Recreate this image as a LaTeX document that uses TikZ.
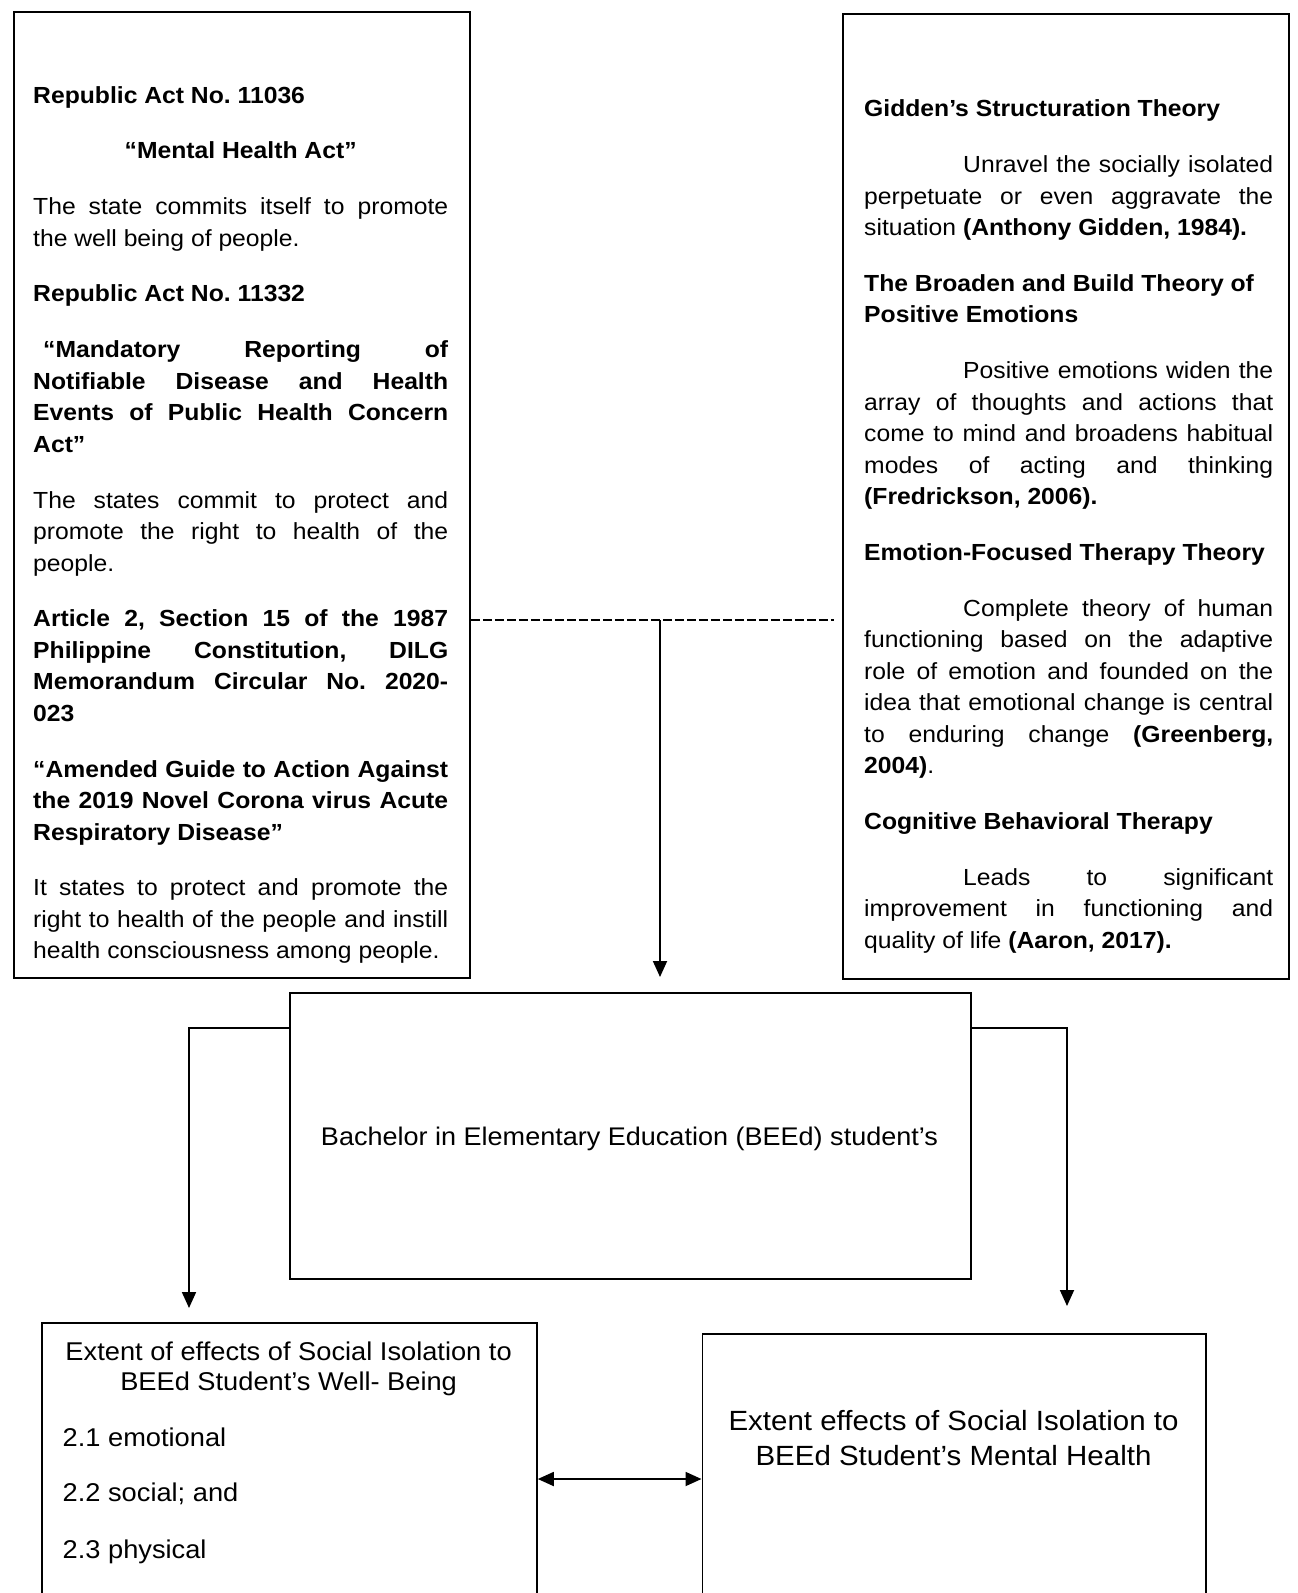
\documentclass[tikz,border=0pt]{standalone}
\usepackage{fontspec}
\setmainfont{Liberation Sans}[FakeStretch=1.06]
\usetikzlibrary{arrows.meta}
\newcommand{\jset}{\frenchspacing\spaceskip=0pt \xspaceskip=0pt \rightskip=0pt \leftskip=0pt \parfillskip=0pt plus 1fil \parindent=0pt \parskip=24.3pt \tolerance=10000 \hbadness=10000 \hfuzz=20pt \hyphenpenalty=10000 \exhyphenpenalty=10000 }
\begin{document}
\begin{tikzpicture}[x=1pt,y=-1pt,
  frame/.style={draw, line width=1.8pt, inner sep=0pt, anchor=north west},
  txt/.style={inner sep=0pt, anchor=north west, font=\fontsize{23.3}{31.5}\selectfont},
  conn/.style={line width=1.8pt},
  tipd/.style={-{Triangle[length=16pt,width=14pt]}},
  tipb/.style={{Triangle[length=16pt,width=14pt]}-{Triangle[length=16pt,width=14pt]}},
  dashln/.style={line width=2.8pt, dash pattern=on 9pt off 3pt}]
\useasboundingbox (0,0) rectangle (1298,1593);
\clip (0,0) rectangle (1298,1593);

% boxes
\node[frame, minimum width=456pt, minimum height=966pt] (law) at (13,11) {};
\node[frame, minimum width=446pt, minimum height=965pt] (theory) at (842,13) {};
\node[frame, minimum width=681pt, minimum height=286pt] (mid) at (289,992) {};
\node[frame, minimum width=495pt, minimum height=330pt] (wb) at (41,1321.7) {};
\node[frame, minimum width=503.5pt, minimum height=320pt] (mb) at (701.5,1332.7) {};

% left text
\node[txt] (lawtext) at (33,86) {\begin{minipage}[t]{415pt}\jset
\textbf{Republic Act No. 11036}\par
{\centering\textbf{“Mental Health Act”}\par}
The state commits itself to promote\linebreak the well being of people.\par
\textbf{Republic Act No. 11332}\par
\textbf{\hspace*{10pt}“Mandatory Reporting of\linebreak Notifiable Disease and Health\linebreak Events of Public Health Concern\linebreak Act”}\par
The states commit to protect and\linebreak promote the right to health of the\linebreak people.\par
\textbf{Article 2, Section 15 of the 1987\linebreak Philippine Constitution, DILG\linebreak Memorandum Circular No. 2020-\linebreak 023}\par
\textbf{“Amended Guide to Action Against\linebreak the 2019 Novel Corona virus Acute\linebreak Respiratory Disease”}\par
It states to protect and promote the\linebreak right to health of the people and instill\linebreak health consciousness among people.\par
\end{minipage}};

% right text
\node[txt] (theorytext) at (864,99.7) {\begin{minipage}[t]{409pt}\jset
\textbf{Gidden’s Structuration Theory}\par
\hspace*{99pt}Unravel the socially isolated\linebreak perpetuate or even aggravate the\linebreak situation \textbf{(Anthony Gidden, 1984).}\par
\textbf{The Broaden and Build Theory of\newline Positive Emotions}\par
\hspace*{99pt}Positive emotions widen the\linebreak array of thoughts and actions that\linebreak come to mind and broadens habitual\linebreak modes of acting and thinking\linebreak \textbf{(Fredrickson, 2006).}\par
\textbf{Emotion-Focused Therapy Theory}\par
\hspace*{99pt}Complete theory of human\linebreak functioning based on the adaptive\linebreak role of emotion and founded on the\linebreak idea that emotional change is central\linebreak to enduring change \textbf{(Greenberg,\linebreak 2004)}.\par
\textbf{Cognitive Behavioral Therapy}\par
\hspace*{99pt}Leads to significant\linebreak improvement in functioning and\linebreak quality of life \textbf{(Aaron, 2017).}\par
\end{minipage}};

% middle text
\node[inner sep=0pt, anchor=base, font=\fontsize{25.5}{30}\selectfont] (midtext) at (629.5,1145) {Bachelor in Elementary Education (BEEd) student’s};

% bottom left text
\node[inner sep=0pt, anchor=north, align=center, font=\fontsize{25.7}{30}\selectfont] (wbtitle) at (288.6,1341.3) {Extent of effects of Social Isolation to\\BEEd Student’s Well- Being};
\node[inner sep=0pt, anchor=base west, font=\fontsize{25.7}{30}\selectfont] (wb1) at (62.5,1446.7) {2.1 emotional};
\node[inner sep=0pt, anchor=base west, font=\fontsize{25.7}{30}\selectfont] (wb2) at (62.5,1501.7) {2.2 social; and};
\node[inner sep=0pt, anchor=base west, font=\fontsize{25.7}{30}\selectfont] (wb3) at (62.5,1558) {2.3 physical};

% bottom right text
\node[inner sep=0pt, anchor=north, align=center, font=\fontsize{27.8}{35}\selectfont] (mbtitle) at (953.5,1409.7) {Extent effects of Social Isolation to\\BEEd Student’s Mental Health};

% connectors
\coordinate (dashmid) at (660,620);
\coordinate (lk) at (189,1028);
\coordinate (rk) at (1067,1028);
\coordinate (da) at (620,1479);
\draw[dashln] (law.east |- dashmid) -- ([xshift=-8pt]theory.west |- dashmid);
\draw[conn, tipd] (dashmid) -- ([yshift=15pt]mid.north -| dashmid);
\draw[conn, tipd] (mid.west |- lk) -- (lk) -- ([yshift=13.7pt]wb.north -| lk);
\draw[conn, tipd] (mid.east |- rk) -- (rk) -- ([yshift=26.7pt]mb.north -| rk);
\draw[conn, tipb] (wb.east |- da) -- (mb.west |- da);
\end{tikzpicture}
\end{document}
